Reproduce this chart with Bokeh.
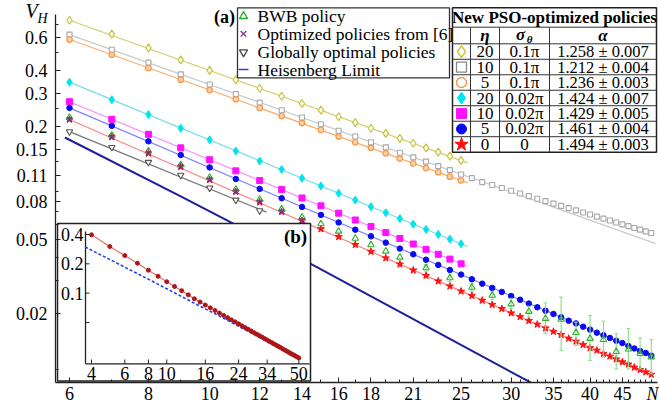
import math
from bokeh.plotting import figure
from bokeh.models import Range1d, LinearScale, LogScale, FixedTicker, CustomJSTickFormatter
from bokeh.core.properties import value
from bokeh.embed import file_html
from bokeh.resources import INLINE

# ---------------- data ----------------
N_short = list(range(6, 26))
N_long = list(range(6, 51))

yellow_V = [0.742, 0.625, 0.528, 0.455, 0.400, 0.356, 0.321, 0.291, 0.266, 0.245,
            0.226, 0.210, 0.196, 0.184, 0.173, 0.163, 0.154, 0.146, 0.139, 0.132]
gray_V = [0.622, 0.516, 0.440, 0.381, 0.336, 0.299, 0.269, 0.245, 0.224, 0.206,
          0.190, 0.177, 0.165, 0.155, 0.145, 0.137, 0.130, 0.123, 0.117, 0.111,
          0.106, 0.101, 0.0974, 0.0939, 0.0907, 0.0878, 0.0850, 0.0823, 0.0799, 0.0775,
          0.0753, 0.0733, 0.0713, 0.0694, 0.0677, 0.0660, 0.0644, 0.0629, 0.0614, 0.0600,
          0.0587, 0.0574, 0.0562, 0.0550, 0.0539]
orange_V = [0.585, 0.485, 0.412, 0.357, 0.314, 0.280, 0.252, 0.228, 0.209, 0.192,
            0.177, 0.165, 0.154, 0.144, 0.135, 0.127, 0.120, 0.114, 0.108, 0.103]
cyan_V = [0.346, 0.279, 0.232, 0.196, 0.170, 0.148, 0.131, 0.118, 0.106, 0.0963,
          0.0880, 0.0809, 0.0746, 0.0692, 0.0644, 0.0602, 0.0564, 0.0530, 0.0500, 0.0472]
magenta_V = [0.272, 0.219, 0.182, 0.154, 0.133, 0.116, 0.103, 0.0921, 0.0830, 0.0754,
             0.0689, 0.0633, 0.0584, 0.0542, 0.0504, 0.0471, 0.0441, 0.0415, 0.0391, 0.0369]
blue_V = [0.252, 0.202, 0.167, 0.141, 0.121, 0.105, 0.0929, 0.0828, 0.0744, 0.0674,
          0.0614, 0.0562, 0.0518, 0.0479, 0.0445, 0.0415, 0.0388, 0.0364, 0.0342, 0.0323,
          0.0305, 0.0289, 0.0274, 0.0261, 0.0248, 0.0237, 0.0226, 0.0216, 0.0207, 0.0199,
          0.0191, 0.0183, 0.0177, 0.0170, 0.0164, 0.0158, 0.0153, 0.0148, 0.0143, 0.0139,
          0.0134, 0.0130, 0.0126, 0.0123, 0.0119]
red_V = [0.2185, 0.176, 0.144, 0.122, 0.104, 0.0898, 0.0789, 0.0701, 0.0628, 0.0567,
         0.0515, 0.0467, 0.0429, 0.0396, 0.0367, 0.0341, 0.0319, 0.0298, 0.0280, 0.0263,
         0.0249, 0.0235, 0.0223, 0.0212, 0.0201, 0.0192, 0.0183, 0.0175, 0.0167, 0.0160,
         0.0154, 0.0147, 0.0142, 0.0136, 0.0131, 0.0127, 0.0122, 0.0118, 0.0114, 0.0110,
         0.0107, 0.0103, 0.0100, 0.00972, 0.00944]

# fitted power-law lines (end points)
fit_short_N = [6, 25.6]
fit_yellow_V = [0.742, 0.128]
fit_orange_V = [0.585, 0.100]
fit_cyan_V = [0.346, 0.0457]
fit_magenta_V = [0.272, 0.0357]
fit_gray_N = [6, 50.8]
fit_gray_V = [0.622, 0.0473]
fit_long_N = [6, 50]
fit_blue_V = [0.252, 0.0119]
fit_red_V = [0.2185, 0.00944]

glob_N = [6, 7, 8, 9, 10, 11, 12]
glob_V = [0.188, 0.155, 0.129, 0.110, 0.094, 0.081, 0.071]
fit_glob_N = [6, 12.3]
fit_glob_V = [0.188, 0.0698]

ref6_N = [6, 7, 8, 9, 10, 11, 12, 13, 14]
ref6_V = [0.2185, 0.176, 0.144, 0.122, 0.104, 0.0898, 0.0789, 0.0701, 0.0628]

bwb_N = [6, 7, 8, 9, 10, 11, 12, 13, 14, 15, 16, 17, 18, 19, 20,
         22, 24, 26, 28, 30, 32, 34, 36, 38, 40, 42, 44, 46, 48, 50]
bwb_V = [0.224, 0.180, 0.148, 0.125, 0.107, 0.0925, 0.0815, 0.0725, 0.0655, 0.0604,
         0.0551, 0.0505, 0.0466, 0.0431, 0.0400, 0.0351, 0.0310, 0.0276, 0.0250, 0.0225,
         0.0205, 0.0188, 0.0186, 0.0158, 0.0147, 0.0145, 0.0125, 0.0129, 0.0122, 0.0117]
bwb_err_N = [22, 24, 26, 28, 30, 32, 34, 36, 38, 40, 42, 44, 46, 48, 50]
bwb_hi = [0.0366, 0.0325, 0.0290, 0.0263, 0.0241, 0.0219, 0.0228, 0.0245, 0.0180,
          0.0195, 0.0182, 0.0156, 0.0166, 0.0148, 0.0145]
bwb_lo = [0.0337, 0.0296, 0.0263, 0.0238, 0.0213, 0.0191, 0.0156, 0.0127, 0.0135,
          0.0112, 0.0116, 0.0101, 0.0101, 0.0101, 0.0095]

hl_N = [5.9, 9, 14, 20, 32.2]
hl_V = [0.175, 0.0846, 0.0391, 0.0204, 0.00855]

# inset (b)
ins_N = list(range(4, 51))
ins_V = [0.397, 0.301, 0.243, 0.203, 0.172, 0.149, 0.131, 0.117, 0.106, 0.096, 0.0875,
         0.0811, 0.0755, 0.0707, 0.0664, 0.0625, 0.0591, 0.0560, 0.0532, 0.0507, 0.0484,
         0.0462, 0.0443, 0.0425, 0.0408, 0.0393, 0.0378, 0.0365, 0.0353, 0.0341, 0.0330,
         0.0319, 0.0310, 0.0300, 0.0292, 0.0284, 0.0276, 0.0268, 0.0261, 0.0255, 0.0248,
         0.0242, 0.0236, 0.0231, 0.0226, 0.0221, 0.0216]
ins_hl_N = [3.7, 6, 10, 14, 20, 30, 50]
ins_hl_V = [0.298, 0.185, 0.111, 0.0788, 0.0553, 0.0362, 0.0213]

x_ticks = [6, 8, 10, 12, 14, 16, 18, 21, 25, 30, 35, 40, 45]
x_minor = list(range(6, 51))
y_ticks = [0.6, 0.4, 0.3, 0.2, 0.15, 0.11, 0.08, 0.05, 0.02]
y_minor = [0.7, 0.5, 0.25, 0.17, 0.13, 0.09, 0.07, 0.06, 0.04, 0.03, 0.01]
ins_x_ticks = [4, 6, 8, 10, 16, 24, 34, 50]
ins_x_labels = ["4", "6", "8", "10", "16", "24", "34", "50"]
ins_y_ticks = [0.4, 0.2, 0.1, 0.05]
ins_y_labeled = [0.4, 0.2, 0.1]
ins_y_labels = ["0.4", "0.2", "0.1"]

legend_labels = ["BWB policy", "Optimized policies from [6]", "Globally optimal policies", "Heisenberg Limit"]
tab_eta = ["20", "10", "5", "20", "10", "5", "0"]
tab_sigma = ["0.1π", "0.1π", "0.1π", "0.02π", "0.02π", "0.02π", "0"]
tab_alpha = ["1.258 ± 0.007", "1.212 ± 0.004", "1.236 ± 0.003", "1.424 ± 0.007",
             "1.429 ± 0.005", "1.461 ± 0.004", "1.494 ± 0.003"]

# ---------------- layout constants (canvas pixels) ----------------
W, H = 659, 410
AX_L, AX_R, AX_T, AX_B = 55, 657, 14, 382      # where the axes are drawn
X6, KX = 69.0, 274.4                            # N=6 pixel, px per ln(N)
Y06, KY = 37.0, 81.15                           # V=0.6 pixel, px per ln(V)
IX4, IKX = 91.0, 82.1                           # inset: N=4 pixel
IY04, IKY = 234.0, 42.3                         # inset: V=0.4 pixel
FONT = "Liberation Serif"


def nx(px):
    return 6 * math.exp((px - X6) / KX)


def vy(py):
    return 0.6 * math.exp(-(py - Y06) / KY)


p = figure(width=W, height=H, x_axis_type="log", y_axis_type="log",
           x_range=Range1d(nx(0), nx(W)), y_range=Range1d(vy(H), vy(0)),
           output_backend="svg", toolbar_location=None,
           min_border_left=0, min_border_right=0, min_border_top=0, min_border_bottom=0)
p.extra_x_ranges = {"px": Range1d(0, W),
                    "ix": Range1d(4 * math.exp((0 - IX4) / IKX), 4 * math.exp((W - IX4) / IKX))}
p.extra_y_ranges = {"py": Range1d(H, 0),
                    "iy": Range1d(0.4 * math.exp(-(H - IY04) / IKY), 0.4 * math.exp((IY04 - 0) / IKY))}
p.extra_x_scales = {"px": LinearScale(), "ix": LogScale()}
p.extra_y_scales = {"py": LinearScale(), "iy": LogScale()}

p.xgrid.visible = False
p.ygrid.visible = False
p.outline_line_color = None
p.background_fill_color = "white"
p.border_fill_color = "white"

xa = p.xaxis[0]
ya = p.yaxis[0]
for ax in (xa, ya):
    ax.axis_line_width = 1.3
    ax.axis_line_color = "#222222"
    ax.major_tick_in = 5
    ax.major_tick_out = 0
    ax.minor_tick_in = 3
    ax.minor_tick_out = 0
    ax.major_tick_line_color = "#222222"
    ax.minor_tick_line_color = "#222222"
    ax.major_label_text_font = FONT
    ax.major_label_text_font_size = "18px"
    ax.major_label_text_color = "black"
    ax.formatter = CustomJSTickFormatter(code="return String(tick);")
xa.ticker = FixedTicker(ticks=x_ticks, minor_ticks=x_minor)
ya.ticker = FixedTicker(ticks=y_ticks, minor_ticks=y_minor)
xa.fixed_location = vy(AX_B)
ya.fixed_location = nx(AX_L)
xa.bounds = (nx(AX_L), nx(AX_R))
ya.bounds = (vy(AX_B), vy(AX_T))
xa.major_label_standoff = 4
ya.major_label_standoff = 8


def txt(xs, ys, texts, size, style="normal", align="center", xr="px", yr="py", color="black"):
    p.text(x=xs, y=ys, text=texts, text_font=value(FONT), text_font_size=value(size),
           text_font_style=value(style), text_align=value(align), text_baseline=value("middle"),
           text_color=color, x_range_name=xr, y_range_name=yr)


# ---------------- main plot ----------------
p.line(hl_N, hl_V, line_color="#1f1f9a", line_width=2)

p.line(fit_short_N, fit_yellow_V, line_color="#d2cf70", line_width=1.2)
p.line(fit_gray_N, fit_gray_V, line_color="#c8c8c8", line_width=1.2)
p.line(fit_short_N, fit_orange_V, line_color="#f8b070", line_width=1.2)
p.line(fit_short_N, fit_cyan_V, line_color="#70dfe8", line_width=1.2)
p.line(fit_short_N, fit_magenta_V, line_color="#ff88ff", line_width=1.2)
p.line(fit_long_N, fit_blue_V, line_color="#8080ff", line_width=1.2)
p.line(fit_long_N, fit_red_V, line_color="#ff8080", line_width=1.2)
p.line(fit_glob_N, fit_glob_V, line_color="#777777", line_width=1.2)

p.scatter(N_short, yellow_V, marker="diamond", size=8, fill_color="white", line_color="#c8c43c", line_width=1.2)
p.scatter(N_long, gray_V, marker="square", size=5, fill_color="white", line_color="#a8a8a8", line_width=1.1)
p.scatter(N_short, orange_V, marker="circle", size=5.5, fill_color="#fbd0a8", line_color="#f59a4a", line_width=1.2)
p.scatter(N_short, cyan_V, marker="diamond", size=8, fill_color="#00e4f0", line_color="#00e4f0")
p.scatter(N_short, magenta_V, marker="square", size=6, fill_color="#ff10ff", line_color="#ff10ff")
p.scatter(N_long, blue_V, marker="circle", size=5.5, fill_color="#0a0af0", line_color="#0a0af0")
p.scatter(N_long, red_V, marker="star", size=7.5, fill_color="#ff1010", line_color="#ff1010")
p.scatter(glob_N, glob_V, marker="inverted_triangle", size=6.5, fill_color="white", line_color="#555555", line_width=1.1)

p.segment(x0=bwb_err_N, y0=bwb_lo, x1=bwb_err_N, y1=bwb_hi, line_color="#90dd90", line_width=1.2)
p.scatter(bwb_err_N, bwb_hi, marker="dash", size=4, line_color="#90dd90")
p.scatter(bwb_err_N, bwb_lo, marker="dash", size=4, line_color="#90dd90")
p.scatter(bwb_N, bwb_V, marker="triangle", size=6.5, fill_color="white", fill_alpha=0.0,
          line_color="#33b033", line_width=1.1)
p.scatter(ref6_N, ref6_V, marker="x", size=7, line_color="#7b2f8c", line_width=1.5)

# ---------------- inset (b) ----------------
p.quad(left=[57], right=[310], top=[223], bottom=[380.5], fill_color="white",
       line_color="#222222", line_width=1.5, x_range_name="px", y_range_name="py")
p.segment(x0=[85], y0=[231], x1=[85], y1=[363.3], line_color="#222222", line_width=1.3,
          x_range_name="px", y_range_name="py")
p.segment(x0=[85], y0=[363.3], x1=[309], y1=[363.3], line_color="#222222", line_width=1.3,
          x_range_name="px", y_range_name="py")
p.segment(x0=[85] * len(ins_y_ticks), y0=ins_y_ticks, x1=[89] * len(ins_y_ticks), y1=ins_y_ticks,
          line_color="#222222", x_range_name="px", y_range_name="iy")
p.segment(x0=ins_x_ticks, y0=[363.3] * len(ins_x_ticks), x1=ins_x_ticks, y1=[359] * len(ins_x_ticks),
          line_color="#222222", x_range_name="ix", y_range_name="py")
txt([83] * len(ins_y_labeled), ins_y_labeled, ins_y_labels, "18px", align="right", xr="px", yr="iy")
txt(ins_x_ticks, [373] * len(ins_x_ticks), ins_x_labels, "18px", xr="ix", yr="py")
p.line(ins_hl_N, ins_hl_V, line_color="#2244ee", line_width=1.6, line_dash="3 2",
       x_range_name="ix", y_range_name="iy")
p.line(ins_N, ins_V, line_color="#e07070", line_width=1.2, x_range_name="ix", y_range_name="iy")
p.scatter(ins_N, ins_V, marker="circle", size=4, fill_color="#b01515", line_color="#b01515",
          x_range_name="ix", y_range_name="iy")
txt([295], [236], ["(b)"], "19px", style="bold")

# ---------------- legend (a) ----------------
txt([224], [16], ["(a)"], "18px", style="bold")
p.quad(left=[237], right=[449], top=[7.3], bottom=[77.3], fill_color="white",
       line_color="#333333", line_width=1.3, x_range_name="px", y_range_name="py")
ly = [15.7, 33.3, 51.7, 69.0]
p.scatter([243], [ly[0]], marker="triangle", size=8, fill_color="white", line_color="#22aa22",
          line_width=1.3, x_range_name="px", y_range_name="py")
p.scatter([243], [ly[1]], marker="x", size=8, line_color="#7b2f8c", line_width=1.3,
          x_range_name="px", y_range_name="py")
p.scatter([243], [ly[2]], marker="inverted_triangle", size=8, fill_color="white", line_color="#444444",
          line_width=1.3, x_range_name="px", y_range_name="py")
p.segment(x0=[238], y0=[ly[3]], x1=[248], y1=[ly[3]], line_color="#3040d0", line_width=1.5,
          x_range_name="px", y_range_name="py")
txt([257] * 4, ly, legend_labels, "17.5px", align="left")

# ---------------- table ----------------
TL, TR, TT, TB = 452, 656, 7.3, 151.7
c1, c2, c3 = 470, 499, 549
h1, h2 = 26.7, 43.3
rh = (TB - h2) / 7
p.quad(left=[TL], right=[TR], top=[TT], bottom=[TB], fill_color="white",
       line_color="#222222", line_width=1.5, x_range_name="px", y_range_name="py")
hy = [h1, h2] + [h2 + rh * k for k in range(1, 7)]
p.segment(x0=[TL] * len(hy), y0=hy, x1=[TR] * len(hy), y1=hy, line_color="#333333",
          line_width=1.0, x_range_name="px", y_range_name="py")
p.segment(x0=[c1, c2, c3], y0=[h1] * 3, x1=[c1, c2, c3], y1=[TB] * 3, line_color="#333333",
          line_width=1.0, x_range_name="px", y_range_name="py")
txt([(TL + TR) / 2], [17], ["New PSO-optimized policies"], "17px", style="bold")
txt([(c1 + c2) / 2], [35], ["η"], "17px", style="bold italic")
txt([(c2 + c3) / 2 - 4], [34], ["σ"], "17px", style="bold italic")
txt([(c2 + c3) / 2 + 5], [38], ["θ"], "11px", style="bold italic")
txt([(c3 + TR) / 2], [35], ["α"], "17px", style="bold italic")
ry = [h2 + rh * (k + 0.5) for k in range(7)]
sx = (TL + c1) / 2
p.scatter([sx], [ry[0]], marker="diamond", size=12, fill_color="white", line_color="#c8c43c",
          line_width=1.5, x_range_name="px", y_range_name="py")
p.scatter([sx], [ry[1]], marker="square", size=10, fill_color="white", line_color="#888888",
          line_width=1.3, x_range_name="px", y_range_name="py")
p.scatter([sx], [ry[2]], marker="circle", size=10, fill_color="white", line_color="#f59a4a",
          line_width=1.5, x_range_name="px", y_range_name="py")
p.scatter([sx], [ry[3]], marker="diamond", size=12, fill_color="#00e4f0", line_color="#00e4f0",
          x_range_name="px", y_range_name="py")
p.scatter([sx], [ry[4]], marker="square", size=10, fill_color="#ff10ff", line_color="#ff10ff",
          x_range_name="px", y_range_name="py")
p.scatter([sx], [ry[5]], marker="circle", size=10, fill_color="#0a0af0", line_color="#0a0af0",
          x_range_name="px", y_range_name="py")
p.scatter([sx], [ry[6]], marker="star", size=14, fill_color="#ff1010", line_color="#ff1010",
          x_range_name="px", y_range_name="py")
txt([(c1 + c2) / 2] * 7, ry, tab_eta, "17px")
txt([(c2 + c3) / 2] * 7, ry, tab_sigma, "17px")
txt([(c3 + TR) / 2] * 7, ry, tab_alpha, "16.5px")

# ---------------- axis titles ----------------
txt([31], [10], ["V"], "20px", style="italic")
txt([42], [18], ["H"], "14px", style="italic")
txt([652], [393], ["N"], "18px", style="italic")

open("out.html", "w").write(file_html(p, INLINE))
